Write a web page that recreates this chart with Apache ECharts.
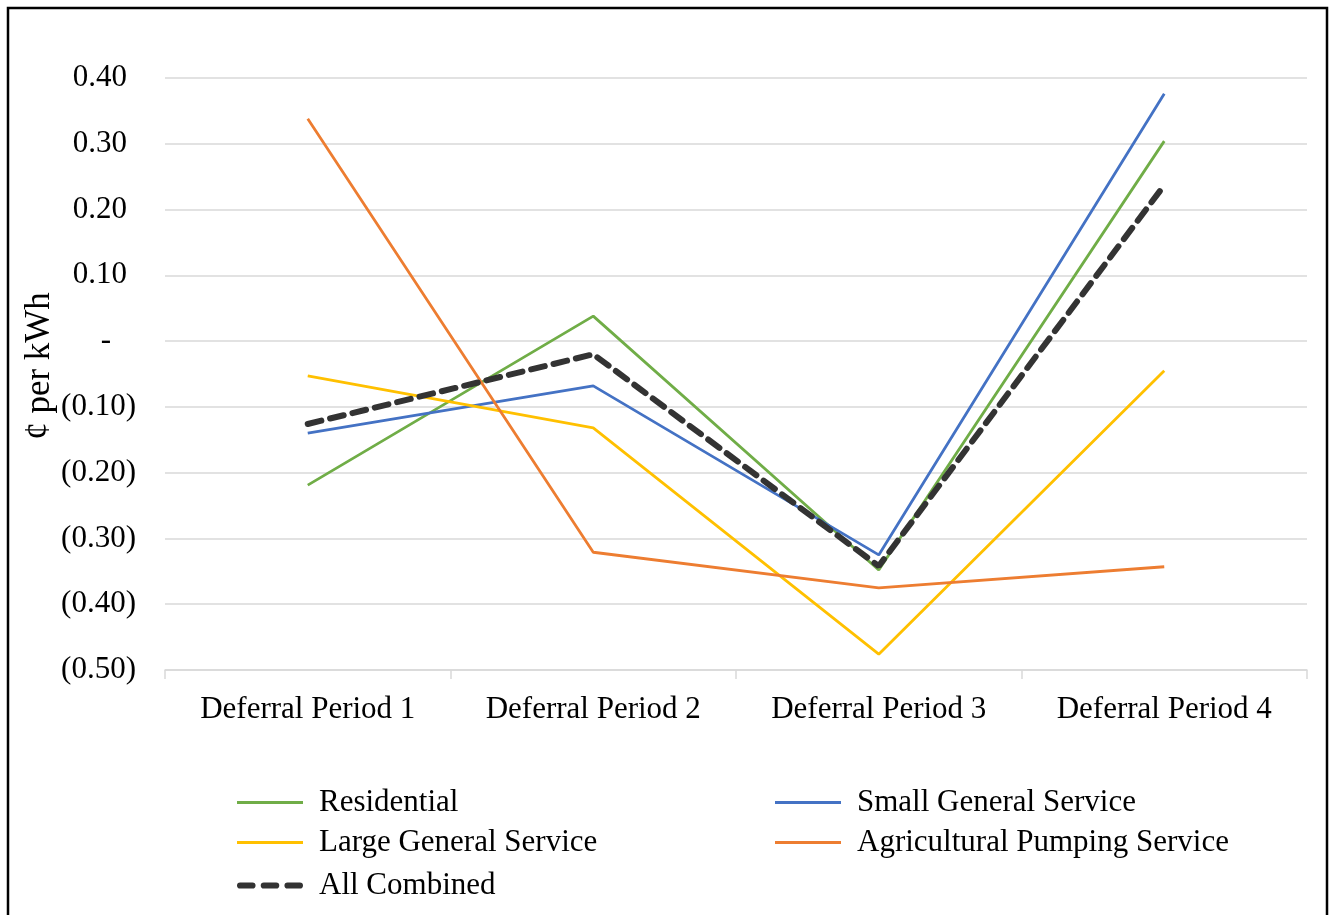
<!DOCTYPE html>
<html>
<head>
<meta charset="utf-8">
<script src="https://cdn.jsdelivr.net/npm/echarts@6/dist/echarts.min.js"></script>
<style>
  html, body { margin: 0; padding: 0; background: #fff; }
  #chart { width: 1331px; height: 915px; }
</style>
</head>
<body>
<div id="chart"></div>
<script>
// data
var categories = ['Deferral Period 1', 'Deferral Period 2', 'Deferral Period 3', 'Deferral Period 4'];
var residential = [-0.219, 0.038, -0.348, 0.304];
var smallGeneral = [-0.140, -0.068, -0.325, 0.376];
var largeGeneral = [-0.053, -0.132, -0.476, -0.045];
var agricultural = [0.338, -0.321, -0.375, -0.343];
var allCombined = [-0.126, -0.020, -0.342, 0.237];

var FONT = '"Liberation Serif", "Times New Roman", serif';
var DASH_ICON = 'path://M3,0h12a3,3 0 0 1 0,6h-12a3,3 0 0 1 0,-6z M26,0h12a3,3 0 0 1 0,6h-12a3,3 0 0 1 0,-6z M49,0h12a3,3 0 0 1 0,6h-12a3,3 0 0 1 0,-6z';

function render_line(id){
  var chartDom = document.getElementById(id);
  var myChart = echarts.init(chartDom);
  var option;

  // one legend per item so the two columns line up like the original
  function legendAt(name, left, top, dashed){
    return {
      data: [{ name: name, icon: dashed ? DASH_ICON : 'rect' }],
      left: left,
      top: top,
      itemWidth: 66,
      itemHeight: dashed ? 7 : 3,
      textStyle: { fontFamily: FONT, fontSize: 31, color: '#000', padding: [0, 0, 0, 11] }
    };
  }

  function mkLine(name, data, color){
    return {
      name: name,
      type: 'line',
      data: data,
      symbol: 'none',
      lineStyle: { color: color, width: 2.8 },
      itemStyle: { color: color }
    };
  }

  option = {
    animation: false,
    backgroundColor: '#fff',
    graphic: [{
      type: 'rect',
      shape: { x: 8, y: 8, width: 1319, height: 930 },
      style: { fill: 'none', stroke: '#000', lineWidth: 2.5 }
    }, {
      // y axis title, placed by hand
      type: 'text',
      x: 40,
      y: 366,
      rotation: Math.PI / 2,
      style: {
        text: '¢ per kWh',
        fontFamily: FONT,
        fontSize: 35,
        fill: '#000',
        align: 'center',
        verticalAlign: 'middle'
      }
    }],
    legend: [
      legendAt('Residential', 232, 782),
      legendAt('Small General Service', 770, 782),
      legendAt('Large General Service', 232, 822),
      legendAt('Agricultural Pumping Service', 770, 822),
      legendAt('All Combined', 232, 865, true)
    ],
    grid: {
      left: 165,
      right: 24,
      top: 78,
      bottom: 245
    },
    xAxis: {
      type: 'category',
      data: categories,
      boundaryGap: true,
      axisLine: { onZero: false, lineStyle: { color: '#d9d9d9', width: 1.5 } },
      axisTick: { show: true, length: 9, lineStyle: { color: '#d9d9d9', width: 1.5 } },
      axisLabel: { fontFamily: FONT, fontSize: 31, color: '#000', margin: 24 },
      splitLine: { show: false }
    },
    yAxis: {
      type: 'value',
      min: -0.5,
      max: 0.4,
      interval: 0.1,
      axisLine: { show: false },
      axisTick: { show: false },
      splitLine: { lineStyle: { color: '#d9d9d9', width: 1.5 } },
      axisLabel: {
        margin: 29,
        formatter: function (v) {
          var r = Math.round(v * 100) / 100;
          if (Math.abs(r) < 1e-9) return '{z|-}';
          if (r < 0) return '{n|(' + Math.abs(r).toFixed(2) + ')}';
          return '{p|' + r.toFixed(2) + '}';
        },
        rich: {
          n: { fontFamily: FONT, fontSize: 31, color: '#000' },
          p: { fontFamily: FONT, fontSize: 31, color: '#000', padding: [0, 9, 0, 0] },
          z: { fontFamily: FONT, fontSize: 31, color: '#000', padding: [0, 25, 0, 0] }
        }
      }
    },
    series: [
      mkLine('Residential', residential, '#70AD47'),
      mkLine('Small General Service', smallGeneral, '#4472C4'),
      mkLine('Large General Service', largeGeneral, '#FFC000'),
      mkLine('Agricultural Pumping Service', agricultural, '#ED7D31'),
      {
        name: 'All Combined',
        type: 'line',
        data: allCombined,
        symbol: 'none',
        lineStyle: { color: '#333333', width: 6, type: [14, 9], cap: 'round' },
        itemStyle: { color: '#333333' }
      }
    ]
  };
  option && myChart.setOption(option);
}

render_line('chart');
</script>
</body>
</html>
